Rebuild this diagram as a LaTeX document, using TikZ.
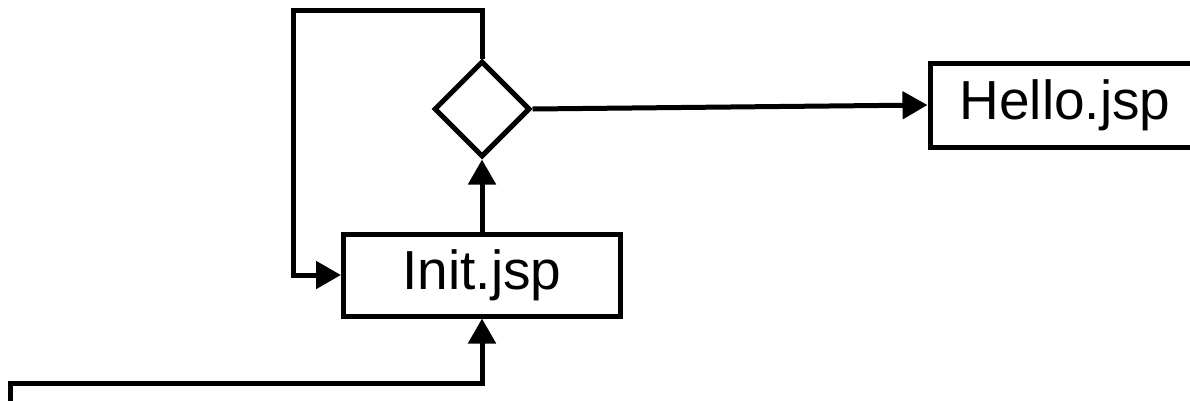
\documentclass[tikz,border=0pt]{standalone}
\usepackage{fontspec}
\setmainfont{Liberation Sans}
\usetikzlibrary{arrows.meta, positioning, shapes.geometric}

\begin{document}
\begin{tikzpicture}[
  x=1pt, y=-1pt,
  font=\fontsize{55}{62}\selectfont,
  line width=5pt,
  page/.style  ={draw, rectangle, minimum height=82pt, inner sep=0pt},
  choice/.style={draw, diamond, aspect=1, minimum width=96pt, minimum height=96pt, inner sep=0pt},
  arr/.style   ={-{Triangle[length=25pt, width=27pt]}, line join=miter},
]
  \useasboundingbox (0,0) rectangle (1190,400);
  \clip (0,0) rectangle (1190,400);

  \node[page, minimum width=277pt]          (init) at (482,275) {Init.jsp};
  \node[choice, above=72pt of init]         (test) {};
  \node[page, minimum width=270pt, minimum height=84pt, right=395pt of test, yshift=4pt] (hello) {Hello.jsp};

  \coordinate (loop)  at (293,10);
  \coordinate (enter) at (10,420);
  \coordinate (turn)  at (482,383);

  \draw[arr] (init)       -- (test);
  \draw[arr] (test.east)  -- (hello.west);
  \draw[arr] (test.north) |- (loop) |- (init.west);
  \draw[arr] (enter)      |- (turn) -- (init.south);
\end{tikzpicture}
\end{document}
